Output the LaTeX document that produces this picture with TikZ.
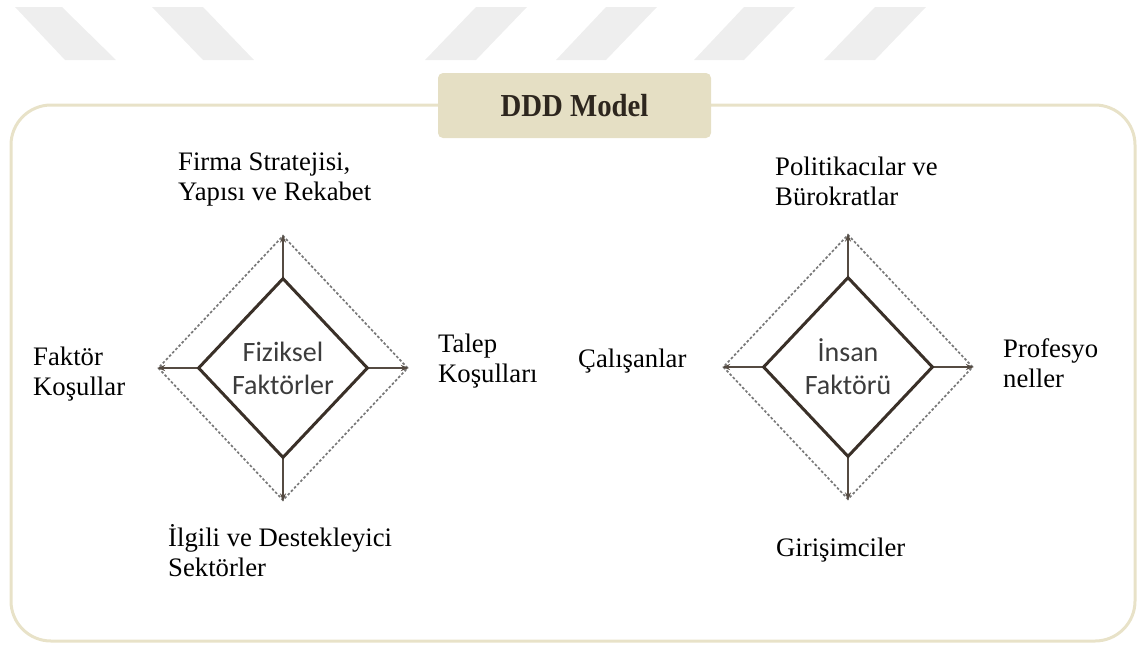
\documentclass[tikz,border=0pt]{standalone}
\usepackage{fontspec}
\setmainfont{Liberation Serif}
\newfontfamily\calibrifont{Carlito}
\newfontfamily\titlefont[FakeStretch=0.9]{Liberation Serif}
\usetikzlibrary{shapes.geometric,arrows.meta,positioning}

\definecolor{framebeige}{RGB}{232,226,200}
\definecolor{titlebeige}{RGB}{229,223,196}
\definecolor{titletext}{RGB}{45,38,30}
\definecolor{corebrown}{RGB}{58,48,40}
\definecolor{arrowbrown}{RGB}{85,75,66}
\definecolor{dotgray}{RGB}{120,120,120}
\definecolor{coretext}{RGB}{60,60,60}
\definecolor{watermark}{RGB}{238,238,238}

\begin{document}
\begin{tikzpicture}[x=1pt, y=-1pt,
    label/.style={inner sep=0pt, align=left, anchor=base west, font=\fontsize{26.7}{30}\selectfont},
    core/.style={diamond, draw=corebrown, line width=3pt, minimum width=170pt, minimum height=180pt, inner sep=0pt, align=center, text=coretext, font=\calibrifont\fontsize{28}{33}\selectfont},
    halo/.style={diamond, draw=dotgray, line width=1.7pt, dash pattern=on 2.6pt off 2pt, minimum width=250pt, minimum height=265pt, inner sep=0pt},
    link/.style={draw=arrowbrown, line width=1.6pt, -{Stealth[length=8pt,width=6pt]}}]

    \useasboundingbox (0,0) rectangle (1139,646);

    % Watermark stripes
    \fill[watermark] (15,7) -- (62,7) -- (116,60) -- (65,60) -- cycle;
    \fill[watermark] (152,7) -- (203,7) -- (254,60) -- (203,60) -- cycle;
    \fill[watermark] (476,7) -- (527,7) -- (476,60) -- (425,60) -- cycle;
    \fill[watermark] (606,7) -- (657,7) -- (606,60) -- (556,60) -- cycle;
    \fill[watermark] (744,7) -- (795,7) -- (744,60) -- (694,60) -- cycle;
    \fill[watermark] (875,7) -- (926,7) -- (875,60) -- (824,60) -- cycle;

    % Frame and title
    \draw[framebeige, line width=3pt, rounded corners=40pt] (11,105) rectangle (1135,641);
    \node[fill=titlebeige, rounded corners=5pt, minimum width=273pt, minimum height=65pt, text=titletext, font=\titlefont\bfseries\fontsize{32}{34}\selectfont] (title) at (574.5,105.5) {DDD Model};

    % Physical factors
    \node[halo] (fizhalo) at (283,368) {};
    \draw[link] (283,278) -- (fizhalo.north);
    \draw[link] (283,458) -- (fizhalo.south);
    \draw[link] (198,368) -- (fizhalo.west);
    \draw[link] (368,368) -- (fizhalo.east);
    \node[core] (fiz) at (283,368) {Fiziksel\\Faktörler};

    % Human factor
    \node[halo] (insanhalo) at (848,367) {};
    \draw[link] (848,277) -- (insanhalo.north);
    \draw[link] (848,457) -- (insanhalo.south);
    \draw[link] (763,367) -- (insanhalo.west);
    \draw[link] (933,367) -- (insanhalo.east);
    \node[core] (insan) at (848,367) {İnsan\\Faktörü};

    % Labels (anchored at the baseline of the last line)
    \node[label] (firma) at (178,200) {Firma Stratejisi,\\Yapısı ve Rekabet};
    \node[label] (talep) at (438,382) {Talep\\Koşulları};
    \node[label] (faktor) at (33,395) {Faktör\\Koşullar};
    \node[label] (ilgili) at (168,576) {İlgili ve Destekleyici\\Sektörler};
    \node[label] (politik) at (775,205) {Politikacılar ve\\Bürokratlar};
    \node[label] (calisan) at (578,367) {Çalışanlar};
    \node[label] (profes) at (1003,387) {Profesyo\\neller};
    \node[label] (girisim) at (776,556) {Girişimciler};
\end{tikzpicture}
\end{document}
